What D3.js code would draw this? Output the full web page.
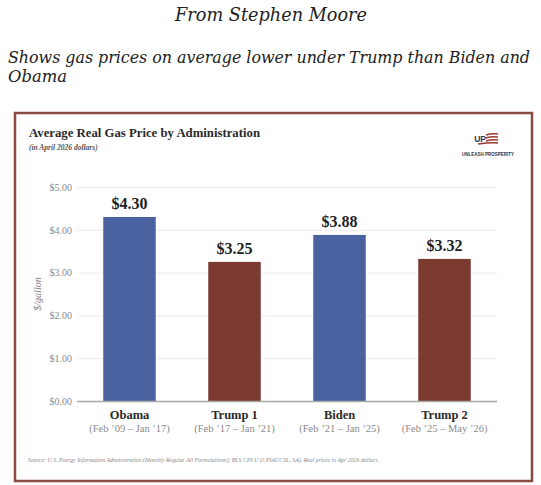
<!DOCTYPE html>
<html>
<head>
<meta charset="utf-8">
<script src="https://cdn.jsdelivr.net/npm/d3@7"></script>
<style>
  body { margin: 0; background: #fff; }
  svg { display: block; }
</style>
</head>
<body>
<script>
// chart data
var administrations = ["Obama", "Trump 1", "Biden", "Trump 2"];
var periods = ["(Feb \u201909 \u2013 Jan \u201917)", "(Feb \u201917 \u2013 Jan \u201921)", "(Feb \u201921 \u2013 Jan \u201925)", "(Feb \u201925 \u2013 May \u201926)"];
var prices = [4.30, 3.25, 3.88, 3.32];
var parties = ["D", "R", "D", "R"];
var yTicks = [0, 1, 2, 3, 4, 5];

var width = 541, height = 485;
var plot = { left: 77, right: 497, top: 187, bottom: 401 };
var barColor = { D: "#4a63a0", R: "#7b3a2f" };
var serif = "'Liberation Serif', 'DejaVu Serif', serif";
var georgia = "'DejaVu Serif', 'Liberation Serif', serif";

var svg = d3.select("body")
    .append("svg")
    .attr("width", width)
    .attr("height", height);

// page header
svg.append("text")
    .attr("x", 271)
    .attr("y", 21)
    .attr("text-anchor", "middle")
    .attr("font-family", georgia)
    .attr("font-style", "italic")
    .attr("font-size", 19)
    .attr("fill", "#222")
    .attr("textLength", 192)
    .attr("lengthAdjust", "spacingAndGlyphs")
    .text("From Stephen Moore");

svg.append("text")
    .attr("x", 8)
    .attr("y", 63)
    .attr("font-family", georgia)
    .attr("font-style", "italic")
    .attr("font-size", 16)
    .attr("fill", "#222")
    .attr("textLength", 522)
    .attr("lengthAdjust", "spacingAndGlyphs")
    .text("Shows gas prices on average lower under Trump than Biden and");

svg.append("text")
    .attr("x", 8)
    .attr("y", 82)
    .attr("font-family", georgia)
    .attr("font-style", "italic")
    .attr("font-size", 17)
    .attr("fill", "#222")
    .attr("textLength", 59)
    .attr("lengthAdjust", "spacingAndGlyphs")
    .text("Obama");

// card frame
svg.append("rect")
    .attr("x", 15)
    .attr("y", 113)
    .attr("width", 517)
    .attr("height", 368)
    .attr("fill", "#fff")
    .attr("stroke", "#8a4a3f")
    .attr("stroke-width", 2.5);

// chart title
svg.append("text")
    .attr("x", 29)
    .attr("y", 137)
    .attr("font-family", serif)
    .attr("font-weight", "bold")
    .attr("font-size", 13)
    .attr("fill", "#2a2a2a")
    .attr("textLength", 231)
    .attr("lengthAdjust", "spacingAndGlyphs")
    .text("Average Real Gas Price by Administration");

svg.append("text")
    .attr("x", 29)
    .attr("y", 150)
    .attr("font-family", serif)
    .attr("font-style", "italic")
    .attr("font-weight", "bold")
    .attr("font-size", 7.5)
    .attr("fill", "#555")
    .text("(in April 2026 dollars)");

// logo
var logo = svg.append("g").attr("transform", "translate(488,0)");
logo.append("text")
    .attr("x", -2)
    .attr("y", 142)
    .attr("text-anchor", "end")
    .attr("font-family", "'Liberation Sans', sans-serif")
    .attr("font-weight", "bold")
    .attr("font-size", 8.5)
    .attr("fill", "#2b3a5c")
    .text("UP");
[134, 137, 140, 143].forEach(function (y, i) {
    logo.append("path")
        .attr("d", "M" + (-2 - (i === 3 ? 8 : 0)) + "," + (y + 1) + " Q4," + (y - 1) + " 10," + y)
        .attr("fill", "none")
        .attr("stroke", "#9b3a35")
        .attr("stroke-width", 1.5);
});
logo.append("text")
    .attr("x", 0)
    .attr("y", 156)
    .attr("text-anchor", "middle")
    .attr("font-family", "'Liberation Sans', sans-serif")
    .attr("font-weight", "bold")
    .attr("font-size", 5.5)
    .attr("fill", "#333")
    .attr("textLength", 52)
    .attr("lengthAdjust", "spacingAndGlyphs")
    .text("UNLEASH PROSPERITY");

// scales
var xScale = d3.scaleBand()
    .domain(administrations)
    .range([plot.left, plot.right])
    .paddingInner(0.5)
    .paddingOuter(0.25);

var yScale = d3.scaleLinear()
    .domain([0, 5])
    .range([plot.bottom, plot.top]);

// gridlines + y ticks
var yAxis = d3.axisLeft(yScale)
    .tickValues(yTicks)
    .tickSize(-(plot.right - plot.left))
    .tickPadding(5)
    .tickFormat(function (d) { return "$" + d.toFixed(2); });

var gy = svg.append("g")
    .attr("transform", "translate(" + plot.left + ",0)")
    .call(yAxis);
gy.select(".domain").remove();
gy.selectAll(".tick line")
    .attr("stroke", "#ececec")
    .attr("stroke-width", 1);
gy.selectAll(".tick text")
    .attr("font-family", serif)
    .attr("font-size", 10)
    .attr("fill", "#8a8a8a");

// y label
svg.append("text")
    .attr("transform", "translate(41," + ((plot.top + plot.bottom) / 2) + ") rotate(-90)")
    .attr("text-anchor", "middle")
    .attr("font-family", serif)
    .attr("font-style", "italic")
    .attr("font-size", 10)
    .attr("fill", "#808080")
    .text("$/gallon");

// bars
svg.selectAll(".bar")
    .data(prices)
    .enter()
    .append("rect")
    .attr("class", "bar")
    .attr("x", function (d, i) { return xScale(administrations[i]); })
    .attr("y", function (d) { return yScale(d); })
    .attr("width", xScale.bandwidth())
    .attr("height", function (d) { return yScale(0) - yScale(d); })
    .attr("fill", function (d, i) { return barColor[parties[i]]; });

// value labels
svg.selectAll(".value")
    .data(prices)
    .enter()
    .append("text")
    .attr("class", "value")
    .attr("x", function (d, i) { return xScale(administrations[i]) + xScale.bandwidth() / 2; })
    .attr("y", function (d) { return yScale(d) - 8; })
    .attr("text-anchor", "middle")
    .attr("font-family", serif)
    .attr("font-weight", "bold")
    .attr("font-size", 16)
    .attr("fill", "#222")
    .text(function (d) { return "$" + d.toFixed(2); });

// baseline
svg.append("line")
    .attr("x1", plot.left)
    .attr("x2", plot.right)
    .attr("y1", yScale(0) + 0.5)
    .attr("y2", yScale(0) + 0.5)
    .attr("stroke", "#a8a8a8")
    .attr("stroke-width", 1.3);

// category labels
var xAxis = d3.axisBottom(xScale).tickSize(0).tickPadding(0);
var gx = svg.append("g")
    .attr("transform", "translate(0," + plot.bottom + ")")
    .call(xAxis);
gx.select(".domain").remove();
gx.selectAll(".tick text").remove();
gx.selectAll(".tick").each(function (d, i) {
    var t = d3.select(this);
    t.append("text")
        .attr("y", 18)
        .attr("text-anchor", "middle")
        .attr("font-family", serif)
        .attr("font-weight", "bold")
        .attr("font-size", 12.5)
        .attr("fill", "#2a2a2a")
        .text(d);
    t.append("text")
        .attr("y", 31)
        .attr("text-anchor", "middle")
        .attr("font-family", serif)
        .attr("font-size", 10.5)
        .attr("fill", "#8a8a8a")
        .text(periods[i]);
});

// source note
svg.append("text")
    .attr("x", 28)
    .attr("y", 462)
    .attr("font-family", serif)
    .attr("font-style", "italic")
    .attr("font-size", 5.5)
    .attr("fill", "#8a8a8a")
    .attr("textLength", 351)
    .attr("lengthAdjust", "spacingAndGlyphs")
    .text("Source: U.S. Energy Information Administration (Monthly Regular All Formulations); BLS CPI-U (CPIAUCSL, SA). Real prices in Apr 2026 dollars.");
</script>
</body>
</html>
